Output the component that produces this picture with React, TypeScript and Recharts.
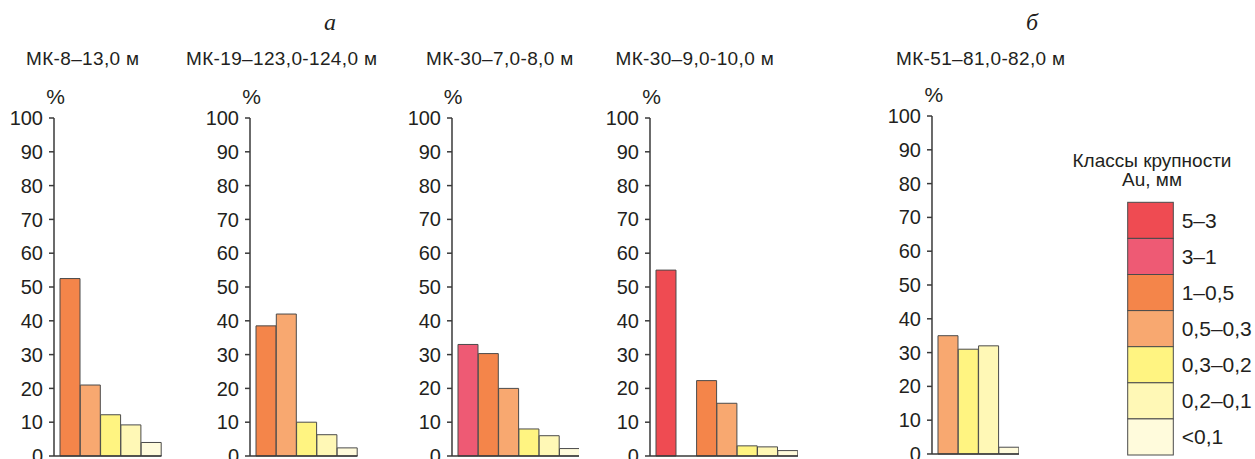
import { BarChart, Bar, XAxis, YAxis, Cell } from "recharts";

// size classes of Au, mm (legend order)
const classes = ["5–3", "3–1", "1–0,5", "0,5–0,3", "0,3–0,2", "0,2–0,1", "<0,1"];
const classColors = ["#ef4b52", "#ee5a74", "#f4854a", "#f8a870", "#fff481", "#fff8b6", "#fffbdc"];
const yTicks = [0, 10, 20, 30, 40, 50, 60, 70, 80, 90, 100];

// % per class, starting from the first class present in the sample
const mk8Values = [52.5, 21, 12.2, 9.2, 4];
const mk19Values = [38.5, 42, 10, 6.3, 2.4];
const mk30aValues = [33, 30.3, 20, 8, 6, 2.2];
const mk30bValues = [55, 0, 22.3, 15.6, 3, 2.7, 1.6];
const mk51Values = [35, 31, 32, 2];

const sampleTitles = [
  "МК-8–13,0 м",
  "МК-19–123,0-124,0 м",
  "МК-30–7,0-8,0 м",
  "МК-30–9,0-10,0 м",
  "МК-51–81,0-82,0 м",
];
const sampleValues = [mk8Values, mk19Values, mk30aValues, mk30bValues, mk51Values];
const sampleStart = [2, 2, 1, 0, 3];

const FONT = '"Liberation Sans", Arial, sans-serif';
const SERIF = '"Liberation Serif", "Times New Roman", serif';
const INK = "#231f20";
const AXIS = "#3a3a3a";
const BAR_STROKE = "#4a4a4a";
const BAND = 20.3;
const AXIS_W = 50;
const PAD = 6;

// where each panel sits on the page
const layout = [
  { axisX: 54, titleX: 26, dy: 0 },
  { axisX: 250, titleX: 186, dy: 0 },
  { axisX: 451.7, titleX: 426, dy: 0 },
  { axisX: 650, titleX: 615.5, dy: 0 },
  { axisX: 932.3, titleX: 896, dy: -2 },
];

interface HistogramProps {
  values: number[];
  start: number;
  axisX: number;
  dy: number;
}

function Histogram({ values, start, axisX, dy }: HistogramProps) {
  const rows = values.map((v, i) => ({
    cls: classes[start + i],
    value: v,
    color: classColors[start + i],
  }));
  const width = AXIS_W + PAD + rows.length * BAND;

  return (
    <div style={{ position: "absolute", left: axisX - AXIS_W, top: dy }}>
      <BarChart
        width={width}
        height={480}
        data={rows}
        margin={{ top: 118, right: 0, bottom: 23, left: 0 }}
        barCategoryGap={0}
        barGap={0}
      >
        <XAxis
          dataKey="cls"
          tick={false}
          tickLine={false}
          height={1}
          padding={{ left: PAD, right: 0 }}
          axisLine={{ stroke: AXIS, strokeWidth: 1.5 }}
        />
        <YAxis
          width={AXIS_W}
          domain={[0, 100]}
          ticks={yTicks}
          interval={0}
          tickSize={5}
          tickMargin={6}
          axisLine={{ stroke: AXIS, strokeWidth: 1.5 }}
          tickLine={{ stroke: AXIS, strokeWidth: 1.5 }}
          tick={{ fontSize: 20, fill: INK, fontFamily: FONT }}
        />
        <Bar dataKey="value" isAnimationActive={false} stroke={BAR_STROKE} strokeWidth={1}>
          {rows.map((r) => (
            <Cell key={r.cls} fill={r.color} />
          ))}
        </Bar>
      </BarChart>
    </div>
  );
}

export default function App() {
  const legendTop = 202.3;
  const legendH = 36.1;

  return (
    <div
      style={{
        position: "absolute",
        left: 0,
        top: 0,
        width: 1255,
        height: 459,
        overflow: "hidden",
        background: "#fff",
      }}
    >
      {sampleValues.map((vals, i) => (
        <Histogram
          key={sampleTitles[i]}
          values={vals}
          start={sampleStart[i]}
          axisX={layout[i].axisX}
          dy={layout[i].dy}
        />
      ))}

      <svg
        width={1255}
        height={459}
        style={{ position: "absolute", left: 0, top: 0, pointerEvents: "none" }}
      >
        <text x={330} y={30} fontFamily={SERIF} fontStyle="italic" fontSize={24} fill={INK} textAnchor="middle">
          а
        </text>
        <text x={1032} y={30} fontFamily={SERIF} fontStyle="italic" fontSize={24} fill={INK} textAnchor="middle">
          б
        </text>

        {sampleTitles.map((t, i) => (
          <g key={t}>
            <text
              x={layout[i].titleX}
              y={65}
              fontFamily={FONT}
              fontSize={19}
              letterSpacing={0.35}
              fill={INK}
            >
              {t}
            </text>
            <text
              x={layout[i].axisX + 1.5}
              y={104 + layout[i].dy}
              fontFamily={FONT}
              fontSize={21}
              fill={INK}
              textAnchor="middle"
            >
              %
            </text>
          </g>
        ))}

        <text x={1152} y={167} fontFamily={FONT} fontSize={19} fill={INK} textAnchor="middle">
          Классы крупности
        </text>
        <text x={1152} y={185.5} fontFamily={FONT} fontSize={19} fill={INK} textAnchor="middle">
          Au, мм
        </text>
        {classes.map((c, i) => (
          <g key={c}>
            <rect
              x={1127.7}
              y={legendTop + i * legendH}
              width={45.6}
              height={legendH}
              fill={classColors[i]}
              stroke={BAR_STROKE}
              strokeWidth={1}
            />
            <text
              x={1181.7}
              y={legendTop + i * legendH + legendH / 2 + 7.5}
              fontFamily={FONT}
              fontSize={21}
              fill={INK}
            >
              {c}
            </text>
          </g>
        ))}
      </svg>
    </div>
  );
}
